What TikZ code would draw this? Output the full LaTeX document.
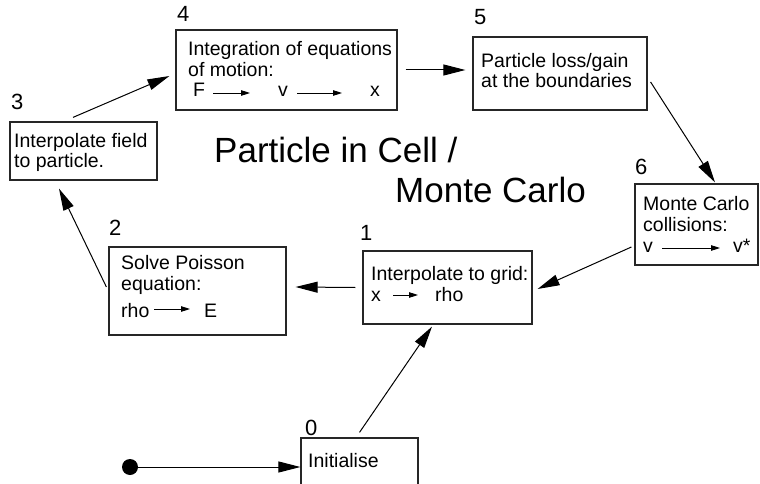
\documentclass[tikz,border=0pt]{standalone}
\usepackage{fontspec}
\setmainfont{Liberation Sans}
\usetikzlibrary{arrows.meta}
\begin{document}
\begin{tikzpicture}[x=1pt,y=-1pt,
  box/.style={draw=black!85, line width=1.2pt, inner sep=0pt},
  txt/.style={anchor=base west, inner sep=0pt, font=\fontsize{19.5}{20}\selectfont},
  num/.style={anchor=base west, inner sep=0pt, font=\fontsize{22}{24}\selectfont},
  title/.style={anchor=base west, inner sep=0pt, font=\fontsize{35}{40}\selectfont},
  flow/.style={-{Triangle[length=22pt,width=11pt]}, line width=1pt},
  inarrow/.style={-{Triangle[length=9pt,width=5.5pt]}, line width=0.9pt},
  dot/.style={circle, fill=black, minimum size=16pt, inner sep=0pt}]
\clip (0,0) rectangle (760,484);
\useasboundingbox (0,0) rectangle (760,484);

% boxes
\node[box, minimum width=221pt, minimum height=80pt] (b4) at (286.5,70) {};
\node[box, minimum width=147pt, minimum height=58pt] (b3) at (83.5,151) {};
\node[box, minimum width=174pt, minimum height=73pt] (b5) at (560,73.5) {};
\node[box, minimum width=123pt, minimum height=81pt] (b6) at (696.5,224.5) {};
\node[box, minimum width=169pt, minimum height=73pt] (b1) at (447.5,287.5) {};
\node[box, minimum width=177pt, minimum height=88pt] (b2) at (197.5,291) {};
\node[box, minimum width=117pt, minimum height=72pt] (b0) at (359.5,474) {};
\node[dot] (start) at (130,467) {};

% numbers
\node[num] (n4) at (177,22) {4};
\node[num] (n3) at (11,110) {3};
\node[num] (n5) at (474,25) {5};
\node[num] (n6) at (635,174) {6};
\node[num] (n2) at (109,235) {2};
\node[num] (n1) at (360,240) {1};
\node[num] (n0) at (305,435) {0};

% box 4 text
\node[txt] (t4a) at (188,56) {Integration of equations};
\node[txt] (t4b) at (188,77) {of motion:};
\node[txt] (t4c) at (193,97) {F};
\node[txt] (t4d) at (278,97) {v};
\node[txt] (t4e) at (370,97) {x};
\draw[inarrow] (213,93) -- (250,93);
\draw[inarrow] (297,93) -- (342,93);

% box 3 text
\node[txt] (t3a) at (14,147) {Interpolate field};
\node[txt] (t3b) at (14,167) {to particle.};

% box 5 text
\node[txt] (t5a) at (481,68) {Particle loss/gain};
\node[txt] (t5b) at (481,88) {at the boundaries};

% box 6 text
\node[txt] (t6a) at (643,210) {Monte Carlo};
\node[txt] (t6b) at (643,231) {collisions:};
\node[txt] (t6c) at (643,252) {v};
\node[txt] (t6d) at (733,252) {v*};
\draw[inarrow] (662,248) -- (720,248);

% box 1 text
\node[txt] (t1a) at (371,280) {Interpolate to grid:};
\node[txt] (t1b) at (371,301) {x};
\node[txt] (t1c) at (435,301) {rho};
\draw[inarrow] (393,295) -- (418,295);

% box 2 text
\node[txt] (t2a) at (121,269) {Solve Poisson};
\node[txt] (t2b) at (121,290) {equation:};
\node[txt] (t2c) at (121,317) {rho};
\node[txt] (t2d) at (204,317) {E};
\draw[inarrow] (154,309) -- (190,309);

% box 0 text
\node[txt] (t0) at (308,467) {Initialise};

% title
\node[title] (ti1) at (214,162) {Particle in Cell /};
\node[title] (ti2) at (395,202) {Monte Carlo};

% connectors
\draw[flow] ([xshift=-10.5pt,yshift=4pt]b3.north) -- ([xshift=-6pt,yshift=-6pt]b4.west);
\draw[flow] ([xshift=8pt]b4.east) -- ([xshift=-7pt,yshift=3.5pt]b5.west);
\draw[flow] ([xshift=3pt,yshift=-8.5pt]b5.east) -- ([xshift=18.5pt,yshift=1pt]b6.north);
\draw[flow] ([xshift=-3pt,yshift=-22.5pt]b6.west) -- ([xshift=5pt,yshift=-1.5pt]b1.east);
\draw[flow] ([xshift=-7pt]b1.west) -- ([xshift=9pt,yshift=4pt]b2.east);
\draw[flow] ([xshift=-2pt,yshift=4pt]b2.west) -- ([xshift=-24.5pt,yshift=-8pt]b3.south);
\draw[flow] ([yshift=5pt]b0.north) -- ([xshift=-15.5pt,yshift=-2pt]b1.south);
\draw[flow] (start) -- ([yshift=7pt]b0.west);
\end{tikzpicture}
\end{document}
